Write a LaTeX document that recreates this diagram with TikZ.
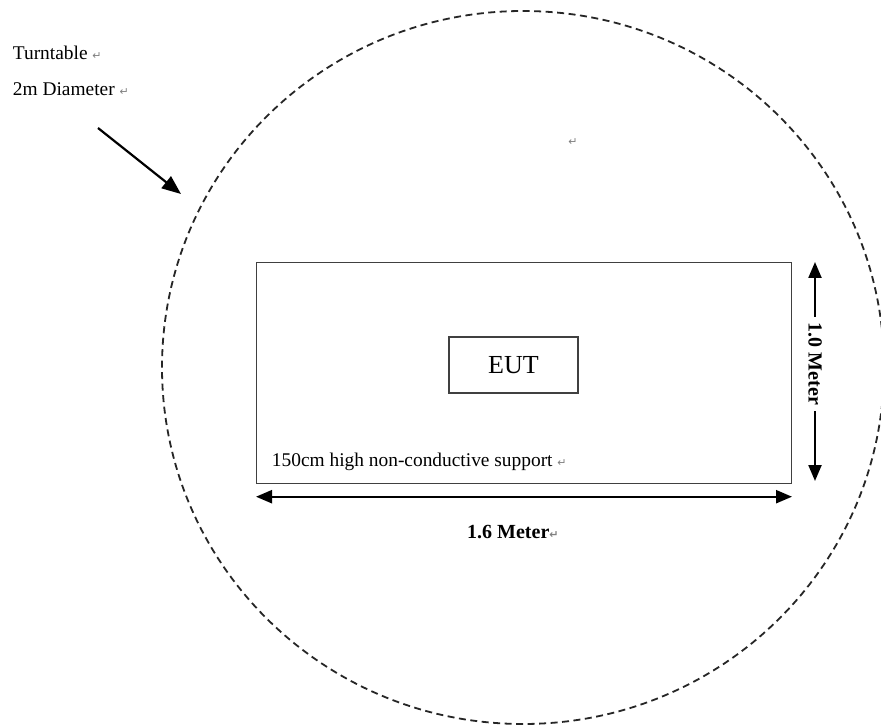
\documentclass[tikz,border=0pt]{standalone}
\usepackage{fontspec}
\setmainfont{Liberation Serif}
\newfontfamily\symfont{DejaVu Sans}
\usetikzlibrary{arrows.meta}
\newcommand\pmark{{\symfont\color{gray}\fontsize{11}{11}\selectfont ↵}}
\begin{document}
\begin{tikzpicture}[x=1pt,y=-1pt,
  turn/.style={draw=black!85, line width=1.8pt, dash pattern=on 7pt off 4.5pt},
  box/.style={draw=black!75, line width=1.2pt, inner sep=0pt},
  lbl/.style={anchor=base west, inner sep=0pt, font=\fontsize{19.4}{22}\selectfont},
  bold/.style={inner sep=0pt, font=\fontsize{20}{22}\selectfont\bfseries},
  dim/.style={draw=black, line width=2.2pt, {Triangle[length=16pt,width=13pt]}-{Triangle[length=16pt,width=13pt]}},
  diag/.style={draw=black, line width=2.2pt, -{Triangle[length=19pt,width=15pt]}}]
\useasboundingbox (0,0) rectangle (881,727);
\clip (0,0) rectangle (881,727);
\fill[white] (0,0) rectangle (881,727);
% turntable
\draw[turn] (523,367.5) ellipse [x radius=361, y radius=356.5];
% labels
\node[lbl] (tt) at (12.7,59.3) {Turntable\ \pmark};
\node[lbl] (dia) at (12.7,96) {2m Diameter\ \pmark};
\node[anchor=center, inner sep=0pt] (pm) at (573,142) {\pmark};
% arrow
\coordinate (as) at (98,128);
\coordinate (ae) at (181,194);
\draw[diag] (as) -- (ae);
% support
\node[box, minimum width=535pt, minimum height=221pt] (support) at (524.2,372.8) {};
\node[box, minimum width=129pt, minimum height=56pt, font=\fontsize{26}{28}\selectfont] (eut) at (513.5,365) {EUT};
\node[lbl] (sup) at (271.7,466.7) {150cm high non-conductive support\ \pmark};
% horizontal dimension
\coordinate (hl) at (256,496.7);
\coordinate (hr) at (792,496.7);
\draw[dim] (hl) -- (hr);
\node[bold, anchor=base west] (w) at (467,538) {1.6 Meter\pmark};
% vertical dimension
\coordinate (vt) at (815,262);
\coordinate (vb) at (815,481);
\draw[dim] (vt) -- (vb);
\node[bold, fill=white, rotate=-90, inner xsep=6pt, inner ysep=2pt] (h) at (815,364) {1.0 Meter};
\end{tikzpicture}
\end{document}
